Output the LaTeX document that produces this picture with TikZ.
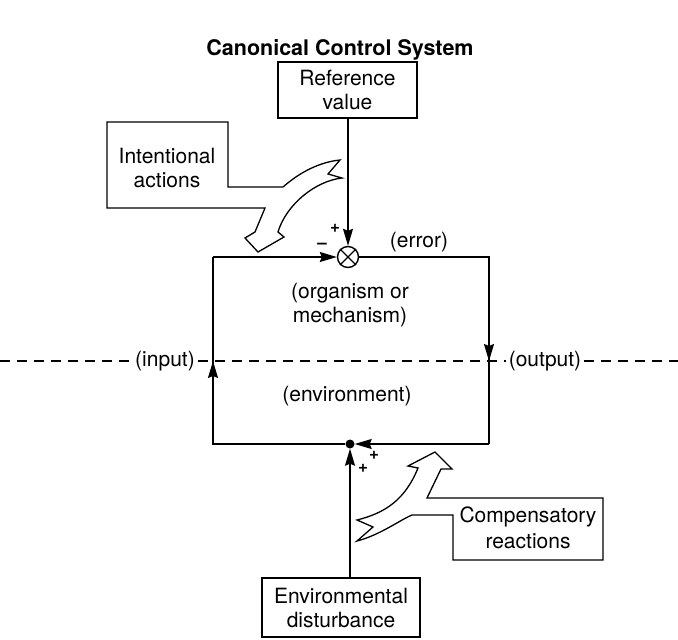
\documentclass[tikz,border=0pt]{standalone}
\usepackage{fontspec}
\setmainfont{TeX Gyre Heros}
\usetikzlibrary{arrows.meta,calc}
\begin{document}
\begin{tikzpicture}[x=1pt,y=-1pt,
  every node/.style={font=\fontsize{21}{24}\selectfont},
  wire/.style={line width=1.4pt},
  arr/.style={line width=1.4pt,-{Stealth[length=17pt,width=10pt,inset=2pt]}},
  boxnode/.style={draw,line width=1.3pt,align=center,inner sep=0pt},
  lbl/.style={align=center,inner sep=1pt},
  sgn/.style={font=\fontsize{17}{17}\selectfont\bfseries,inner sep=0pt},
  fat/.style={draw,fill=white,line width=1.3pt,line join=miter},
  dashline/.style={line width=1.4pt,dash pattern=on 10pt off 7pt}]
\useasboundingbox (0,0) rectangle (678,640);
% title
\node[font=\fontsize{21.5}{25}\selectfont\bfseries] (title) at (340,50) {Canonical Control System};
% boxes
\node[boxnode,minimum width=139pt,minimum height=56pt] (ref) at (347.5,90) {Reference\\value};
\node[boxnode,minimum width=158pt,minimum height=59pt] (dist) at (341,607.5) {Environmental\\disturbance};
% summing junction and dot
\node[draw,circle,line width=1.4pt,minimum size=21pt,inner sep=0pt] (sum) at (348,257) {};
\draw[wire] (sum.north west) -- (sum.south east) (sum.north east) -- (sum.south west);
\node[circle,fill,inner sep=0pt,minimum size=9pt] (dot) at (350,444) {};
% corners
\coordinate (tl) at (213,257);
\coordinate (bl) at (213,444);
\coordinate (tr) at (489,257);
\coordinate (br) at (489,444);
\coordinate (inarr) at (213,361);
\coordinate (outarr) at (489,361);
% loop
\draw[wire] (dot) -- (bl) -- (tl);
\draw[arr] (bl) -- (inarr);
\draw[arr] (tl) -- (sum);
\draw[wire] (sum) -- (tr) -- (br);
\draw[arr] (tr) -- (outarr);
\draw[arr] (br) -- (dot);
\draw[arr] (sum |- ref.south) -- (sum);
\draw[arr] (dot |- dist.north) -- (dot);
% signs
\node[sgn] (p1) at (335,228) {+};
\node[sgn] (m1) at (322,246) {--};
\node[sgn] (p2) at (374,455) {+};
\node[sgn] (p3) at (363,468) {+};
% labels
\node[lbl] (err) at (419,242) {(error)};
\node[lbl] (org) at (350,305) {(organism or\\mechanism)};
\node[lbl] (env) at (347,396) {(environment)};
\node[lbl,inner sep=3pt] (inp) at (165,361) {(input)};
\node[lbl,inner sep=3pt] (outp) at (545,361) {(output)};
% dashed boundary
\coordinate (dl) at (0,361);
\coordinate (dr) at (678,361);
\draw[dashline] (dl) -- (inp.west);
\draw[dashline] (inp.east) -- (outp.west);
\draw[dashline] (outp.east) -- (dr);
% intentional actions callout arrow
\draw[fat] (107,122) -- (228,122) -- (228,187) -- (283,187)
  .. controls (300,172) and (320,162) .. (340,160)
  -- (328,174) -- (342,178)
  .. controls (315,181) and (286,205) .. (278,232)
  -- (284,237) -- (258,252) -- (245,238) -- (255,232)
  -- (265,208) -- (107,208) -- cycle;
\node[lbl] (ia) at (167,168) {Intentional\\actions};
% compensatory reactions callout arrow
\draw[fat] (453,560) -- (603,560) -- (603,498) -- (427,498)
  -- (441,469) -- (452,469) -- (435,452) -- (408,466) -- (418,468)
  .. controls (405,500) and (385,513) .. (357,520)
  -- (373,527) -- (357,541)
  .. controls (380,535) and (400,520) .. (412,515)
  -- (453,515) -- cycle;
\node[lbl,font=\fontsize{21}{26}\selectfont] (cr) at (528,528) {Compensatory\\reactions};
\end{tikzpicture}
\end{document}
